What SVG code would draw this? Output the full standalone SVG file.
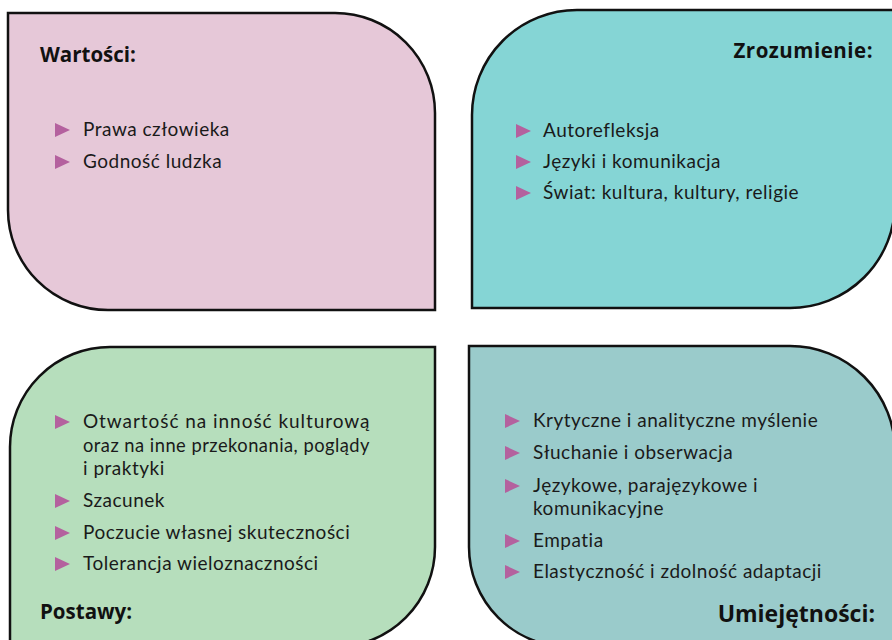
<svg xmlns="http://www.w3.org/2000/svg" width="892" height="640" viewBox="0 0 892 640">
<style>
.box{stroke:#111;stroke-width:2.5}
.t{font-family:Lato,"Open Sans",sans-serif;font-size:19px;letter-spacing:0.5px;fill:#1a1a1a}
.h{font-family:"Open Sans","Noto Sans",sans-serif;font-size:20.5px;font-weight:bold;fill:#111}
.h2{font-size:23px}
.b{fill:#B4619E}
</style>
<defs>
<polygon id="tri" points="0,-7 15,0 0,7"/>
</defs>
<rect width="892" height="640" fill="#fff"/>
<g id="wartosci">
<path class="box" fill="#E6C8D8" d="M8,13 H335 A100,100 0 0 1 435,113 V310 H108 A100,100 0 0 1 8,210 Z"/>
<text class="h" x="40" y="62">Wartości:</text>
<use href="#tri" class="b" x="55" y="130"/>
<text class="t" x="83" y="136">Prawa człowieka</text>
<use href="#tri" class="b" x="55" y="162"/>
<text class="t" x="83" y="168">Godność ludzka</text>
</g>
<g id="zrozumienie">
<path class="box" fill="#85D5D5" d="M577,10 H895 V203 A105,105 0 0 1 790,308 H472 V115 A105,105 0 0 1 577,10 Z"/>
<text class="h" x="873" y="58" text-anchor="end" style="letter-spacing:0.5px">Zrozumienie:</text>
<use href="#tri" class="b" x="516" y="131"/>
<text class="t" x="543" y="137">Autorefleksja</text>
<use href="#tri" class="b" x="516" y="162"/>
<text class="t" x="543" y="168">Języki i komunikacja</text>
<use href="#tri" class="b" x="516" y="193"/>
<text class="t" x="543" y="199">Świat: kultura, kultury, religie</text>
</g>
<g id="postawy">
<path class="box" fill="#B6DEBC" d="M110,347 H435 V547 A100,100 0 0 1 335,647 H10 V447 A100,100 0 0 1 110,347 Z"/>
<use href="#tri" class="b" x="55" y="422"/>
<text class="t" x="83" y="428" textLength="287" lengthAdjust="spacing">Otwartość na inność kulturową</text>
<text class="t" x="83" y="452" textLength="287" lengthAdjust="spacingAndGlyphs">oraz na inne przekonania, poglądy</text>
<text class="t" x="83" y="475">i praktyki</text>
<use href="#tri" class="b" x="55" y="501"/>
<text class="t" x="83" y="507">Szacunek</text>
<use href="#tri" class="b" x="55" y="533"/>
<text class="t" x="83" y="539">Poczucie własnej skuteczności</text>
<use href="#tri" class="b" x="55" y="564"/>
<text class="t" x="83" y="570">Tolerancja wieloznaczności</text>
<text class="h" x="40" y="619">Postawy:</text>
</g>
<g id="umiejetnosci">
<path class="box" fill="#9ACBCB" d="M469,346 H790 A105,105 0 0 1 895,451 V647 H569 A100,100 0 0 1 469,547 Z"/>
<use href="#tri" class="b" x="505" y="421"/>
<text class="t" x="533" y="427">Krytyczne i analityczne myślenie</text>
<use href="#tri" class="b" x="505" y="453"/>
<text class="t" x="533" y="459">Słuchanie i obserwacja</text>
<use href="#tri" class="b" x="505" y="486"/>
<text class="t" x="533" y="492">Językowe, parajęzykowe i</text>
<text class="t" x="533" y="515">komunikacyjne</text>
<use href="#tri" class="b" x="505" y="541"/>
<text class="t" x="533" y="547">Empatia</text>
<use href="#tri" class="b" x="505" y="572"/>
<text class="t" x="533" y="578">Elastyczność i zdolność adaptacji</text>
<text class="h h2" x="875" y="622" text-anchor="end">Umiejętności:</text>
</g>
<g id="connectors"/>
</svg>
